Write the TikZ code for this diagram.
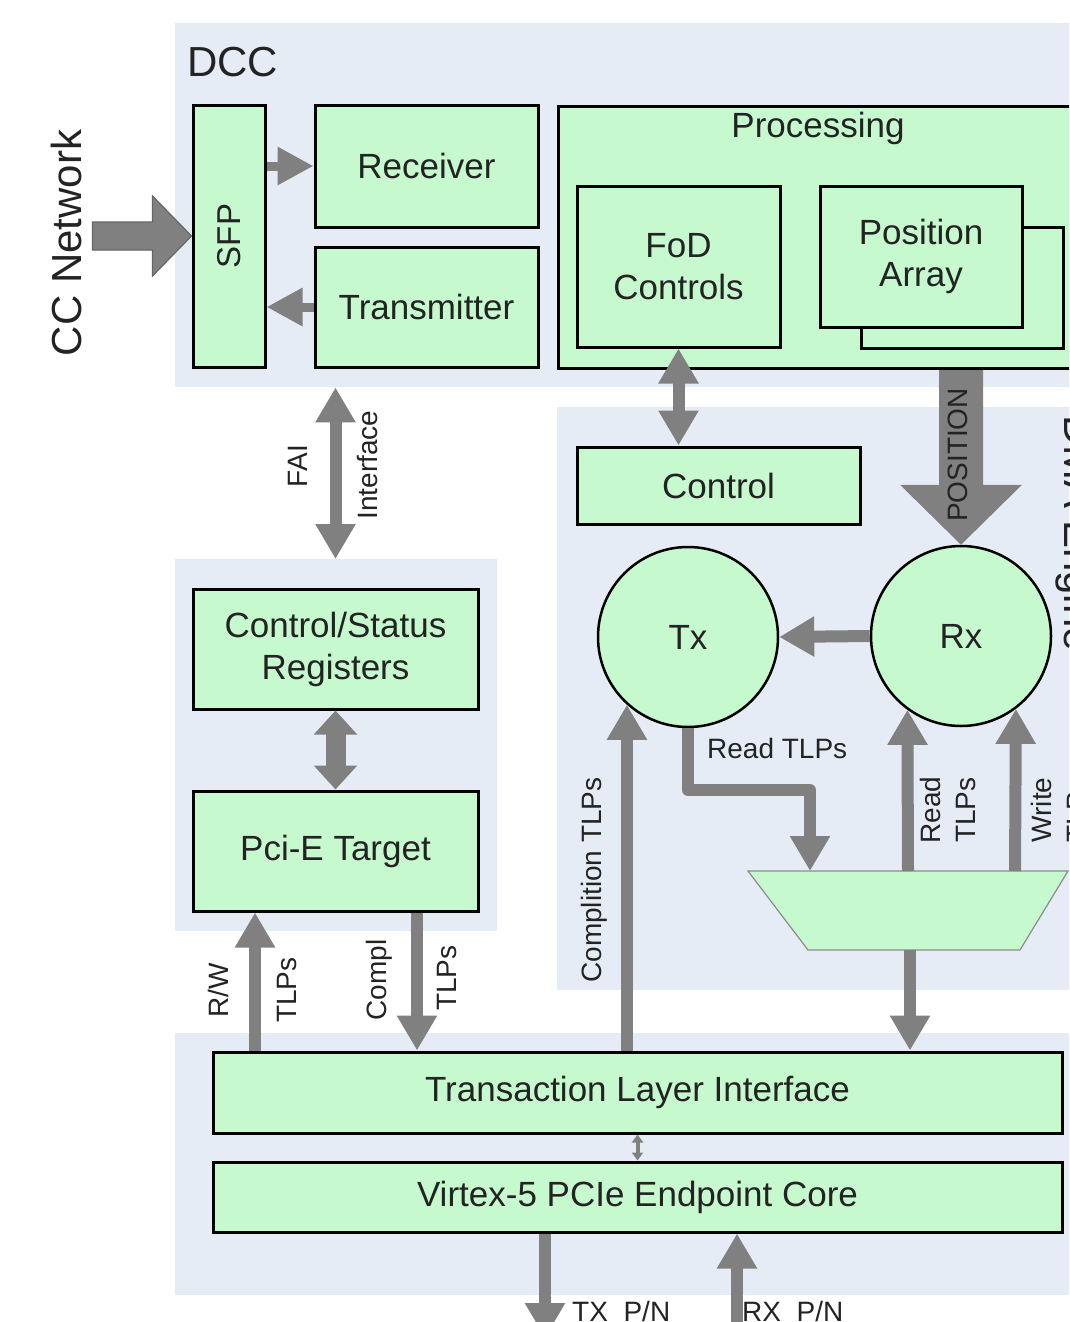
\documentclass[tikz,border=0pt]{standalone}
\usepackage{fontspec}
\setmainfont{Liberation Sans}
\usetikzlibrary{arrows.meta,calc}
\definecolor{boxgreen}{RGB}{198,249,206}
\definecolor{bgblue}{RGB}{230,236,246}
\definecolor{arrgray}{RGB}{128,128,128}
\definecolor{txt}{RGB}{35,35,35}
\begin{document}
\begin{tikzpicture}[x=1pt,y=-1pt,
  every node/.style={text=txt},
  bgbox/.style={fill=bgblue, inner sep=0pt, anchor=north west},
  box/.style={draw=black, line width=3pt, fill=boxgreen, inner sep=0pt, align=center,
     font=\fontsize{35}{42}\selectfont},
  circ/.style={circle, draw=black, line width=2.5pt, fill=boxgreen, inner sep=0pt,
     minimum size=180pt, font=\fontsize{35}{42}\selectfont},
  lbl/.style={font=\fontsize{28}{35}\selectfont, inner sep=0pt, align=center},
  arr/.style={draw=arrgray, line width=12pt, -{Triangle[width=38pt,length=35pt]}},
  darr/.style={draw=arrgray, line width=12pt, {Triangle[width=38pt,length=35pt]}-{Triangle[width=38pt,length=35pt]}},
  sarr/.style={draw=arrgray, line width=9pt, -{Triangle[width=36pt,length=36pt]}},
  fatarr/.style={draw=arrgray, line width=20pt, {Triangle[width=42pt,length=24pt]}-{Triangle[width=42pt,length=24pt]}},
  tinyarr/.style={draw=arrgray, line width=4pt, {Triangle[width=11pt,length=8pt]}-{Triangle[width=11pt,length=8pt]}},
]
\useasboundingbox (0,0) rectangle (1069,1322);
\clip (0,0) rectangle (1069,1322);

% backgrounds
\node[bgbox, minimum width=905pt, minimum height=364pt] (dccbg) at (175,23) {};
\node[bgbox, minimum width=523pt, minimum height=583pt] (dmabg) at (557,407) {};
\node[bgbox, minimum width=322pt, minimum height=372pt] (csrbg) at (175,559) {};
\node[bgbox, minimum width=905pt, minimum height=262pt] (botbg) at (175,1033) {};

\node[anchor=west, inner sep=0pt, font=\fontsize{42}{48}\selectfont] (dcclbl) at (187,62) {DCC};
\node[rotate=-90, inner sep=0pt, font=\fontsize{42}{48}\selectfont] (dmalbl) at (1075,533) {DMA Engine};
\node[rotate=90, inner sep=0pt, font=\fontsize{42}{48}\selectfont] (ccnet) at (66,243) {CC Network};

% DCC blocks (SFP is rotated: its north is the left side, its south the right side)
\node[box, rotate=90, minimum width=262pt, minimum height=72pt, font=\fontsize{33}{40}\selectfont] (sfp) at (229,236) {SFP};
\node[box, minimum width=223pt, minimum height=122pt] (recv) at (426.5,166) {Receiver};
\node[box, minimum width=223pt, minimum height=120pt] (trans) at (426.5,307) {Transmitter};
\node[box, anchor=north west, minimum width=523pt, minimum height=262pt] (proc) at (557,105) {};
\node[inner sep=0pt, font=\fontsize{35}{42}\selectfont] (proclbl) at (818,128) {Processing};
\node[box, minimum width=203pt, minimum height=161pt] (fod) at (678.5,266.5) {FoD\\Controls};
\node[box, anchor=north west, minimum width=202pt, minimum height=121pt] (posback) at (860,226) {};
\node[box, minimum width=202pt, minimum height=141pt] (posfront) at (921,256.5) {Position\\Array};

% DMA engine
\node[box, minimum width=283pt, minimum height=77pt] (ctrl) at (718.5,485.5) {Control};
\node[circ] (tx) at (688,637) {Tx};
\node[circ] (rx) at (961,636) {Rx};
\coordinate (mTL) at (748,871);
\coordinate (mTR) at (1068,871);
\coordinate (mBR) at (1020,950);
\coordinate (mBL) at (808,950);
\fill[boxgreen, draw=gray!90, line width=1.2pt] (mTL) -- (mTR) -- (mBR) -- (mBL) -- cycle;

% CSR region
\node[box, minimum width=285pt, minimum height=120pt] (csr) at (335.5,649) {Control/Status\\Registers};
\node[box, minimum width=285pt, minimum height=120pt] (pcie) at (335.5,851) {Pci-E Target};

% bottom
\node[box, minimum width=849pt, minimum height=81pt] (tli) at (637.5,1092.5) {Transaction Layer Interface};
\node[box, minimum width=849pt, minimum height=70pt] (vtx) at (637.5,1197) {Virtex-5 PCIe Endpoint Core};

% block arrow CC Network
\coordinate (ccA) at ($(sfp.north)+(-99,-14)$);
\coordinate (ccB) at ($(sfp.north)+(-39,-14)$);
\coordinate (ccC) at ($(sfp.north)+(-39,-40)$);
\coordinate (ccD) at ($(sfp.north)+(-39,40)$);
\coordinate (ccE) at ($(sfp.north)+(-39,14)$);
\coordinate (ccF) at ($(sfp.north)+(-99,14)$);
\filldraw[fill=arrgray, draw=black!60, line width=1.2pt] (ccA) -- (ccB) -- (ccC) -- (sfp.north) -- (ccD) -- (ccE) -- (ccF) -- cycle;

% SFP arrows
\draw[sarr] (sfp.south |- recv.west) -- (recv.west);
\draw[sarr] (trans.west) -- (sfp.south |- trans.west);

% FoD <-> Control
\draw[darr] (fod.south) -- (fod.south |- ctrl.north);

% POSITION block arrow
\coordinate (p1) at ($(rx.north)+(-22,0)$);
\coordinate (p2) at ($(rx.north)+(22,0)$);
\coordinate (p3) at ($(rx.north)+(22,-60)$);
\coordinate (p4) at ($(rx.north)+(61,-60)$);
\coordinate (p5) at ($(rx.north)+(-61,-60)$);
\coordinate (p6) at ($(rx.north)+(-22,-60)$);
\fill[arrgray] (p1 |- proc.south) -- (p2 |- proc.south) -- (p3) -- (p4) -- (rx.north) -- (p5) -- (p6) -- cycle;
\node[rotate=90, lbl] (postxt) at (958,455) {POSITION};

% Rx -> Tx
\draw[arr] (rx.west) -- (tx.east);

% Tx -> mux (Read TLPs)
\coordinate (rdbend) at (688,790);
\coordinate (muxin) at (810,871);
\draw[arr, line join=round] (tx.south) -- (rdbend) -| (muxin);
\node[lbl, anchor=west] (rdlbl) at (707,748) {Read TLPs};

% mux -> Rx
\coordinate (rd1) at (908,871);
\coordinate (wr1) at (1015,871);
\draw[arr] (rd1) -- (rx.-126);
\draw[arr] (wr1) -- (rx.-53);
\node[lbl, rotate=90] (rdtlp) at (948,810) {Read\\TLPs};
\node[lbl, rotate=90] (wrtlp) at (1059,810) {Write\\TLPs};

% mux -> TLI
\coordinate (mo) at (910,950);
\draw[arr] (mo) -- (tli.north -| mo);

% Completion TLPs
\draw[arr] (tli.north -| tx.-132) -- (tx.-132);
\node[lbl, rotate=90] (cpl) at (594,880) {Complition TLPs};

% FAI interface
\draw[darr] (csr.north |- dccbg.south) -- (csr.north |- csrbg.north);
\node[lbl, rotate=90] (fai) at (298,466) {FAI};
\node[lbl, rotate=90] (intf) at (368,465) {Interface};

% CSR <-> PciE
\draw[fatarr] (csr.south) -- (pcie.north);

% R/W TLPs and Compl TLPs
\coordinate (rwx) at (255,0);
\coordinate (cmx) at (417,0);
\draw[arr] (tli.north -| rwx) -- (pcie.south -| rwx);
\draw[arr] (pcie.south -| cmx) -- (tli.north -| cmx);
\node[lbl, rotate=90] (rwl) at (218,990) {R/W};
\node[lbl, rotate=90] (rwt) at (287,990) {TLPs};
\node[lbl, rotate=90] (cml) at (379,980) {Compl};
\node[lbl, rotate=90] (cmt) at (447,978) {TLPs};

% TLI <-> Virtex
\draw[tinyarr] (tli.south) -- (vtx.north);

% TX/RX P/N
\coordinate (txo) at (545,1338);
\coordinate (rxi) at (737,1345);
\draw[arr] (vtx.south -| txo) -- (txo);
\draw[arr] (rxi) -- (vtx.south -| rxi);
\node[lbl, anchor=base west] (txpn) at (572,1321) {TX\_P/N};
\node[lbl, anchor=base west] (rxpn) at (742,1321) {RX\_P/N};
\end{tikzpicture}
\end{document}
